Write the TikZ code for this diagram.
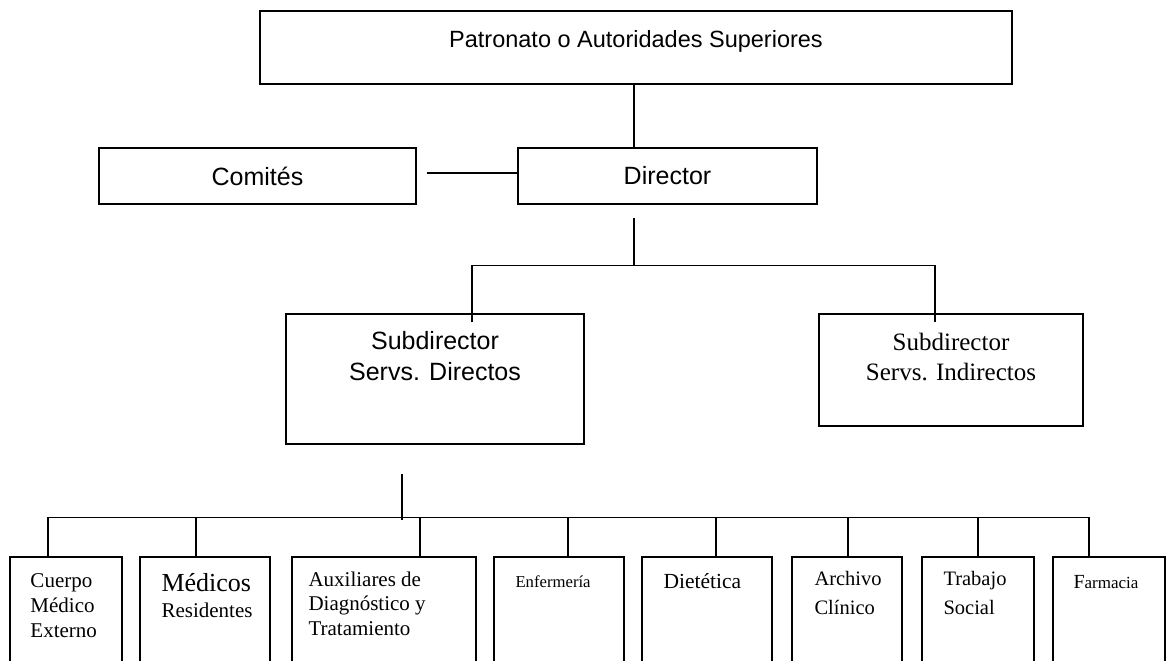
\documentclass[tikz,border=0pt]{standalone}
\usepackage{fontspec}
\setmainfont{Liberation Sans}
\newfontfamily\serifrm{Liberation Serif}
\usepackage{tikz}
\tikzset{
    org-box/.style = {draw, line width=1.4pt, rectangle, inner sep=0pt},
    org-line/.style = {line width=1.4pt},
    sans-text/.style = {font=\fontsize{25}{31}\selectfont, inner sep=0pt, align=center},
    serif-text/.style = {font=\serifrm\fontsize{21}{25}\selectfont, inner sep=0pt, align=left, anchor=north west},
}

\begin{document}
\begin{tikzpicture}[x=1pt, y=-1pt]
\path[use as bounding box, clip] (0,0) rectangle (1171,661);

% upper levels
\node[org-box, minimum width=752pt, minimum height=73pt] (patronato) at (636,47.5) {};
\node[sans-text, anchor=north, font=\fontsize{23.5}{28}\selectfont] (patronato-text) at ([yshift=-20pt]patronato.north) {Patronato o Autoridades Superiores};
\node[org-box, sans-text, minimum width=317pt, minimum height=56pt] (comites) at (257.5,176) {Comités};
\node[org-box, sans-text, minimum width=299pt, minimum height=56pt] (director) at (667.5,176) {Director};

\node[org-box, minimum width=298pt, minimum height=130pt] (sub-directos) at (435,379) {};
\node[sans-text, anchor=north] (sub-directos-text) at ([yshift=-18pt]sub-directos.north) {Subdirector\\Servs. Directos};
\node[org-box, minimum width=264pt, minimum height=112pt] (sub-indirectos) at (951,370) {};
\node[sans-text, anchor=north, font=\serifrm\fontsize{25}{30}\selectfont] (sub-indirectos-text) at ([yshift=-20pt]sub-indirectos.north) {Subdirector\\Servs. Indirectos};

% departments
\node[org-box, minimum width=112pt, minimum height=150pt] (cuerpo) at (66,632) {};
\node[org-box, minimum width=130pt, minimum height=150pt] (medicos) at (205,632) {};
\node[org-box, minimum width=184pt, minimum height=150pt] (auxiliares) at (384,632) {};
\node[org-box, minimum width=130pt, minimum height=150pt] (enfermeria) at (559,632) {};
\node[org-box, minimum width=130pt, minimum height=150pt] (dietetica) at (707,632) {};
\node[org-box, minimum width=110pt, minimum height=150pt] (archivo) at (847,632) {};
\node[org-box, minimum width=112pt, minimum height=150pt] (trabajo) at (978,632) {};
\node[org-box, minimum width=112pt, minimum height=150pt] (farmacia) at (1109,632) {};

\node[serif-text] (cuerpo-text) at ([xshift=21pt,yshift=-17pt]cuerpo.north west) {Cuerpo\\Médico\\Externo};
\node[serif-text, font=\serifrm\fontsize{21}{26}\selectfont] (medicos-text) at ([xshift=22pt,yshift=-17pt]medicos.north west) {{\fontsize{26}{26}\selectfont Médicos}\\Residentes};
\node[serif-text, font=\serifrm\fontsize{21}{24.5}\selectfont] (auxiliares-text) at ([xshift=17pt,yshift=-15pt]auxiliares.north west) {Auxiliares de\\Diagnóstico y\\Tratamiento};
\node[serif-text, font=\serifrm\fontsize{16.7}{20}\selectfont] (enfermeria-text) at ([xshift=22pt,yshift=-19pt]enfermeria.north west) {Enfermería};
\node[serif-text, font=\serifrm\fontsize{21.5}{26}\selectfont] (dietetica-text) at ([xshift=22pt,yshift=-17pt]dietetica.north west) {Dietética};
\node[serif-text, font=\serifrm\fontsize{20.5}{29}\selectfont] (archivo-text) at ([xshift=23pt,yshift=-15pt]archivo.north west) {Archivo\\Clínico};
\node[serif-text, font=\serifrm\fontsize{20.5}{29}\selectfont] (trabajo-text) at ([xshift=22pt,yshift=-15pt]trabajo.north west) {Trabajo\\Social};
\node[serif-text, font=\serifrm\fontsize{17}{20}\selectfont] (farmacia-text) at ([xshift=21pt,yshift=-19pt]farmacia.north west) {{\fontsize{20}{20}\selectfont F}armacia};

% connectors
\coordinate (dir-stem) at (634,218);
\coordinate (dir-bus) at (634,266);
\coordinate (sub-stem) at (402,474);
\coordinate (sub-bus) at (402,520);

\draw[org-line] (patronato.south -| dir-stem) -- (director.north -| dir-stem);
\draw[org-line] ([xshift=10pt,yshift=3pt]comites.east) -- ([yshift=3pt]director.west);
\draw[org-line] (dir-stem) -- (dir-bus);
\draw[org-line] ([xshift=37pt,yshift=-9pt]sub-directos.north) -- ++(0,-57) -- ([xshift=-16pt,yshift=48pt]sub-indirectos.north) -- ([xshift=-16pt,yshift=-9pt]sub-indirectos.north);

\draw[org-line] (sub-stem) -- (sub-bus);
\draw[org-line] ([xshift=-18pt,yshift=39pt]cuerpo.north) -- ([xshift=-20pt,yshift=39pt]farmacia.north);
\draw[org-line] ([xshift=-18pt]cuerpo.north) -- ++(0,-39);
\draw[org-line] ([xshift=-9pt]medicos.north) -- ++(0,-39);
\draw[org-line] ([xshift=36pt]auxiliares.north) -- ++(0,-39);
\draw[org-line] ([xshift=9pt]enfermeria.north) -- ++(0,-39);
\draw[org-line] ([xshift=9pt]dietetica.north) -- ++(0,-39);
\draw[org-line] ([xshift=1pt]archivo.north) -- ++(0,-39);
\draw[org-line] (trabajo.north) -- ++(0,-39);
\draw[org-line] ([xshift=-20pt]farmacia.north) -- ++(0,-39);
\end{tikzpicture}
\end{document}
